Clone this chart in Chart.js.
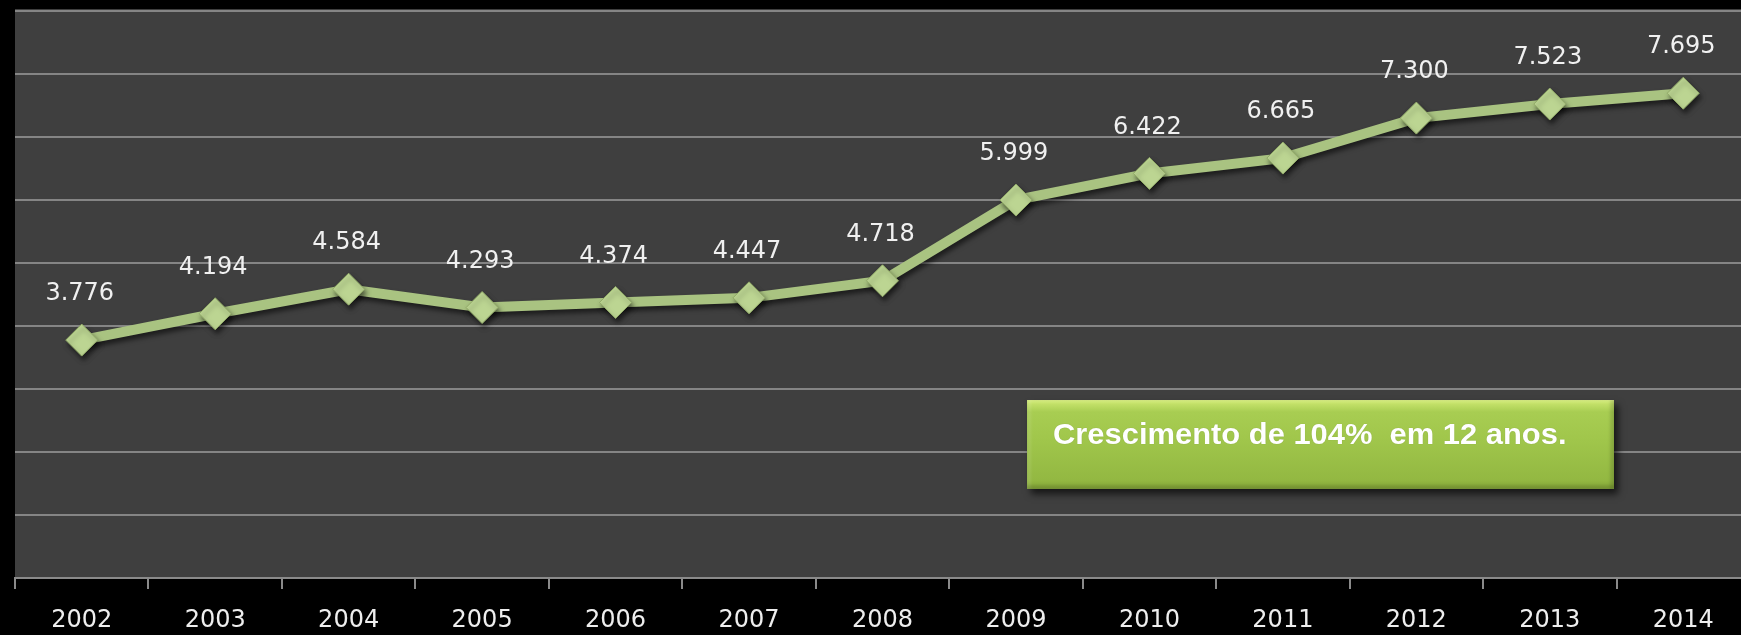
<!DOCTYPE html>
<html>
<head>
<meta charset="utf-8">
<script src="https://cdn.jsdelivr.net/npm/chart.js@4/dist/chart.umd.min.js"></script>
<style>
  html, body { margin: 0; padding: 0; background: #000; overflow: hidden; width: 1741px; height: 635px; }
  #wrap { position: absolute; left: 0; top: 0; width: 1760px; height: 635px; }
  #note {
    position: absolute; left: 1027px; top: 400px; width: 587px; height: 89px;
    background: linear-gradient(to bottom, #dcf283 0px, #c2e068 4px, #a8cd52 12px, #a0c64b 40px, #93b842 80px, #86a838 89px);
    box-shadow: 4px 5px 7px rgba(0,0,0,0.65), inset 0 -4px 3px rgba(0,0,0,0.12), inset 4px 0 3px rgba(255,255,255,0.10), inset -4px 0 3px rgba(0,0,0,0.12);
    box-sizing: border-box;
  }
  #note span {
    position: absolute; left: 26px; top: 17px;
    font-family: "Liberation Sans Narrow", "Liberation Sans", sans-serif;
    font-weight: bold; font-size: 30px; color: #fff; white-space: pre;
    transform: scaleX(1.03); transform-origin: left center;
    text-shadow: 0 0 1px rgba(0,0,0,0.2);
  }
</style>
</head>
<body>
<div id="wrap"><canvas id="c" width="1760" height="635"></canvas></div>
<div id="note"><span>Crescimento de 104%  em 12 anos.</span></div>
<script>
const years = ["2002","2003","2004","2005","2006","2007","2008","2009","2010","2011","2012","2013","2014"];
const values = [3.776, 4.194, 4.584, 4.293, 4.374, 4.447, 4.718, 5.999, 6.422, 6.665, 7.300, 7.523, 7.695];
const yMin = 0, yMax = 9, yStep = 1;

const areaBg = {
  id: 'areaBg',
  beforeDraw(chart) {
    const {ctx, chartArea: a} = chart;
    ctx.save();
    ctx.fillStyle = '#3f3f3f';
    ctx.fillRect(a.left, a.top - 2, a.right - a.left, a.bottom - a.top + 2);
    ctx.restore();
  }
};

const shadow = {
  id: 'shadow',
  beforeDatasetDraw(chart) {
    const ctx = chart.ctx;
    ctx.save();
    ctx.shadowColor = 'rgba(0,0,0,0.55)';
    ctx.shadowBlur = 5;
    ctx.shadowOffsetX = 2;
    ctx.shadowOffsetY = 4;
  },
  afterDatasetDraw(chart) { chart.ctx.restore(); }
};

const valueLabels = {
  id: 'valueLabels',
  afterDatasetsDraw(chart) {
    const ctx = chart.ctx;
    const meta = chart.getDatasetMeta(0);
    ctx.save();
    ctx.font = '24px "DejaVu Sans", Verdana, sans-serif';
    ctx.fillStyle = '#f0f0f0';
    ctx.textAlign = 'center';
    ctx.textBaseline = 'middle';
    meta.data.forEach((pt, i) => {
      ctx.fillText(values[i].toFixed(3), pt.x - 2, pt.y - 46);
    });
    ctx.restore();
  }
};

new Chart(document.getElementById('c'), {
  type: 'line',
  data: {
    labels: years,
    datasets: [{
      data: values,
      borderColor: '#a9c381',
      borderWidth: 10,
      pointStyle: 'rectRot',
      pointRadius: 16,
      pointBackgroundColor: '#bcd592',
      pointBorderColor: '#92ab68',
      pointBorderWidth: 1,
      tension: 0,
      clip: false
    }]
  },
  options: {
    responsive: false,
    animation: false,
    events: [],
    layout: { autoPadding: false, padding: { left: 15, right: 10, top: 11, bottom: 0 } },
    plugins: { legend: { display: false }, tooltip: { enabled: false } },
    scales: {
      x: {
        offset: true,
        grid: { offset: true, drawOnChartArea: false, drawTicks: true, tickLength: 11, color: '#8a8a8a', lineWidth: 2 },
        border: { display: true, color: '#8a8a8a', width: 2 },
        ticks: { color: '#eeeeee', font: { family: '"DejaVu Sans", Verdana, sans-serif', size: 24, lineHeight: 1 }, padding: 20, maxRotation: 0, autoSkip: false },
        afterFit(s) { s.height = 57; }
      },
      y: {
        min: yMin, max: yMax,
        ticks: { display: false, stepSize: yStep },
        grid: { color: '#858585', lineWidth: 2, drawTicks: false },
        border: { display: false },
        afterFit(s) { s.width = 0; }
      }
    }
  },
  plugins: [areaBg, shadow, valueLabels]
});
</script>
</body>
</html>
